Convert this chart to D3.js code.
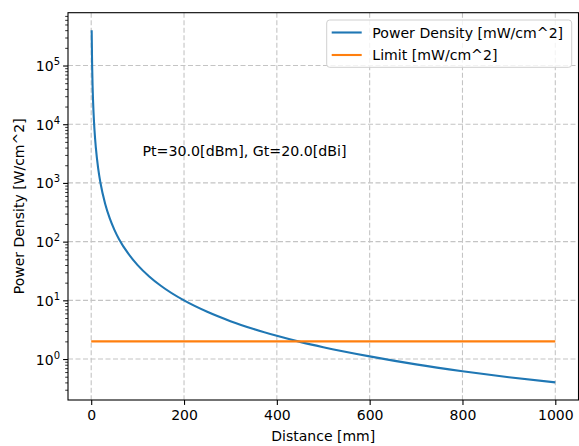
<!DOCTYPE html>
<html>
<head>
<meta charset="utf-8">
<script src="https://cdn.jsdelivr.net/npm/d3@7"></script>
<style>
  html, body { margin: 0; padding: 0; background: #fff; }
  svg { display: block; font-family: "DejaVu Sans", sans-serif; }
</style>
</head>
<body>
<svg id="chart" width="579" height="446"></svg>
<script>
// Data
const distance = [1, 2, 3, 5, 7, 10, 15, 20, 30, 40, 50, 60, 80, 100, 125, 150, 200, 250, 300, 350, 400, 450, 500, 600, 700, 800, 900, 1000];
const powerDensity = [397887, 99472, 44210, 15915, 8120, 3979, 1768, 995, 442, 249, 159, 110, 62.2, 39.8, 25.5, 17.7, 9.95, 6.37, 4.42, 3.25, 2.49, 1.96, 1.59, 1.11, 0.81, 0.62, 0.49, 0.40];
const limitX = [0, 1000];
const limitValue = [2.0, 2.0];
const xTicks = [0, 200, 400, 600, 800, 1000];
const yTickExps = [0, 1, 2, 3, 4, 5];
const seriesNames = ["Power Density [mW/cm^2]", "Limit [mW/cm^2]"];
const seriesColors = ["#1f77b4", "#ff7f0e"];
const annotation = "Pt=30.0[dBm], Gt=20.0[dBi]";
const xLabel = "Distance [mm]";
const yLabel = "Power Density [W/cm^2]";

const svg = d3.select("#chart");
const L = 68, R = 578.5, T = 12.7, B = 400;

// x with 5% margins like matplotlib
const xMin = d3.min(limitX), xMax = d3.max(distance);
const xPad = (xMax - xMin) * 0.05;
const x = d3.scaleLinear().domain([xMin - xPad, xMax + xPad]).range([L, R]);

const allY = powerDensity.concat(limitValue);
const lyMin = Math.log10(d3.min(allY)), lyMax = Math.log10(d3.max(allY));
const lyPad = (lyMax - lyMin) * 0.05;
const y = d3.scaleLog().domain([Math.pow(10, lyMin - lyPad), Math.pow(10, lyMax + lyPad)]).range([B, T]);

const fs = 14;
const gridColor = "#c4c4c4";

// Grid
const grid = svg.append("g");
xTicks.forEach(t => {
  grid.append("line").attr("x1", x(t)).attr("x2", x(t)).attr("y1", T).attr("y2", B)
    .attr("stroke", gridColor).attr("stroke-width", 1.1).attr("stroke-dasharray", "5,2.5");
});
yTickExps.forEach(e => {
  const v = Math.pow(10, e);
  grid.append("line").attr("x1", L).attr("x2", R).attr("y1", y(v)).attr("y2", y(v))
    .attr("stroke", gridColor).attr("stroke-width", 1.1).attr("stroke-dasharray", "5,2.5");
});

// Clip
svg.append("clipPath").attr("id", "clip").append("rect")
  .attr("x", L).attr("y", T).attr("width", R - L).attr("height", B - T);

// Lines
const pdData = distance.map((d, i) => [d, powerDensity[i]]);
const limData = limitX.map((d, i) => [d, limitValue[i]]);
const line = d3.line().x(d => x(d[0])).y(d => y(d[1])).curve(d3.curveMonotoneX);

const plot = svg.append("g").attr("clip-path", "url(#clip)");
plot.append("path").datum(pdData).attr("d", line).attr("fill", "none")
  .attr("stroke", seriesColors[0]).attr("stroke-width", 2.1);
plot.append("path").datum(limData).attr("d", line).attr("fill", "none")
  .attr("stroke", seriesColors[1]).attr("stroke-width", 2.1);

// Axes
const xAxis = d3.axisBottom(x).tickValues(xTicks).tickSize(4.9).tickPadding(4.9).tickFormat(d3.format("d"));
const gx = svg.append("g").attr("transform", `translate(0,${B})`).call(xAxis);
gx.select(".domain").remove();
gx.selectAll(".tick line").attr("stroke", "#000").attr("stroke-width", 1.1);
gx.selectAll(".tick text").attr("font-size", fs).attr("fill", "#000")
  .attr("font-family", "DejaVu Sans, sans-serif");

// y minor ticks
const [yd0, yd1] = y.domain();
const minorVals = [];
for (let e = Math.floor(Math.log10(yd0)); e <= Math.ceil(Math.log10(yd1)); e++) {
  for (let k = 2; k <= 9; k++) {
    const v = k * Math.pow(10, e);
    if (v >= yd0 && v <= yd1) minorVals.push(v);
  }
}
const gyMinor = svg.append("g").attr("transform", `translate(${L},0)`)
  .call(d3.axisLeft(y).tickValues(minorVals).tickSize(2.8).tickFormat(""));
gyMinor.select(".domain").remove();
gyMinor.selectAll(".tick line").attr("stroke", "#000").attr("stroke-width", 0.8);

const majorVals = yTickExps.map(e => Math.pow(10, e));
const gy = svg.append("g").attr("transform", `translate(${L},0)`)
  .call(d3.axisLeft(y).tickValues(majorVals).tickSize(4.9).tickFormat(""));
gy.select(".domain").remove();
gy.selectAll(".tick line").attr("stroke", "#000").attr("stroke-width", 1.1);

// y tick labels with superscript
yTickExps.forEach(e => {
  const t = svg.append("text").attr("x", L - 8).attr("y", y(Math.pow(10, e)) + 5.5)
    .attr("text-anchor", "end").attr("font-size", fs).attr("fill", "#000");
  t.append("tspan").text("10");
  t.append("tspan").attr("dy", -6).attr("font-size", 10).text(String(e));
});

// Spines
svg.append("rect").attr("x", L).attr("y", T).attr("width", R - L).attr("height", B - T)
  .attr("fill", "none").attr("stroke", "#000").attr("stroke-width", 1.1);

// Axis labels
svg.append("text").attr("x", (L + R) / 2).attr("y", 441).attr("text-anchor", "middle")
  .attr("font-size", fs).attr("fill", "#000").text(xLabel);
svg.append("text").attr("transform", `translate(24,${(T + B) / 2}) rotate(-90)`)
  .attr("text-anchor", "middle").attr("font-size", fs).attr("fill", "#000").text(yLabel);

// Annotation
svg.append("text").attr("x", 142.5).attr("y", 155.5).attr("font-size", 14.2).attr("fill", "#000").text(annotation);

// Legend
const lg = svg.append("g");
lg.append("rect").attr("x", 326.7).attr("y", 20).attr("width", 245).attr("height", 47.3)
  .attr("rx", 3).attr("fill", "#fff").attr("fill-opacity", 0.8)
  .attr("stroke", "#d0d0d0").attr("stroke-width", 1);
seriesNames.forEach((name, i) => {
  const cy = 32.5 + i * 22.5;
  lg.append("line").attr("x1", 331.7).attr("x2", 361.7).attr("y1", cy).attr("y2", cy)
    .attr("stroke", seriesColors[i]).attr("stroke-width", 2.1);
  lg.append("text").attr("x", 372.3).attr("y", cy + 5.2).attr("font-size", 14.1).attr("fill", "#000").text(name);
});
</script>
</body>
</html>
